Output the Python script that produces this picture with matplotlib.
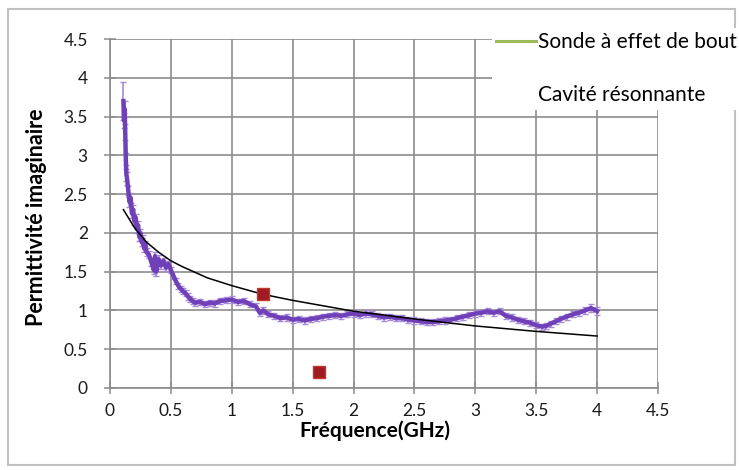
import numpy as np
import matplotlib
matplotlib.use("Agg")
import matplotlib.pyplot as plt
from matplotlib.lines import Line2D
from matplotlib.patches import Rectangle

plt.rcParams['font.family'] = ['Lato', 'DejaVu Sans']

# mesure sonde a effet de bout (GHz, permittivite imaginaire)
freq = [0.11, 0.115, 0.12, 0.125, 0.13, 0.135, 0.14, 0.15, 0.16, 0.17,
        0.18, 0.19, 0.20, 0.21, 0.22, 0.23, 0.24, 0.25, 0.26, 0.27,
        0.28, 0.29, 0.30, 0.32, 0.34, 0.36, 0.37, 0.38, 0.40, 0.42,
        0.44, 0.46, 0.48, 0.50, 0.52, 0.54, 0.56, 0.58, 0.60, 0.62,
        0.64, 0.66, 0.68, 0.70, 0.74, 0.78, 0.82, 0.86, 0.90, 0.95,
        1.00, 1.05, 1.10, 1.15, 1.20, 1.23, 1.26, 1.30, 1.35, 1.40,
        1.45, 1.50, 1.55, 1.60, 1.65, 1.70, 1.75, 1.80, 1.85, 1.90,
        1.95, 2.00, 2.05, 2.10, 2.15, 2.20, 2.25, 2.30, 2.35, 2.40,
        2.45, 2.50, 2.55, 2.60, 2.65, 2.70, 2.75, 2.80, 2.85, 2.90,
        2.95, 3.00, 3.05, 3.10, 3.15, 3.20, 3.25, 3.30, 3.35, 3.40,
        3.45, 3.50, 3.55, 3.58, 3.62, 3.66, 3.70, 3.75, 3.80, 3.85,
        3.90, 3.95, 4.00]
eps_sonde = [3.70, 3.45, 3.60, 3.30, 2.95, 2.75, 2.70, 2.55, 2.40, 2.45,
             2.25, 2.30, 2.15, 2.20, 2.05, 2.10, 1.95, 2.00, 1.88, 1.92,
             1.80, 1.85, 1.75, 1.72, 1.62, 1.52, 1.70, 1.50, 1.66, 1.58,
             1.64, 1.55, 1.60, 1.52, 1.45, 1.38, 1.32, 1.28, 1.25, 1.22,
             1.18, 1.15, 1.12, 1.10, 1.11, 1.08, 1.10, 1.09, 1.12, 1.13,
             1.14, 1.11, 1.12, 1.08, 1.05, 0.97, 1.00, 0.95, 0.93, 0.90,
             0.91, 0.88, 0.89, 0.87, 0.89, 0.90, 0.92, 0.93, 0.94, 0.93,
             0.95, 0.96, 0.94, 0.96, 0.95, 0.93, 0.91, 0.92, 0.90, 0.90,
             0.88, 0.87, 0.86, 0.85, 0.85, 0.86, 0.87, 0.88, 0.90, 0.92,
             0.94, 0.96, 0.97, 0.99, 0.97, 0.99, 0.93, 0.91, 0.88, 0.86,
             0.84, 0.81, 0.79, 0.80, 0.83, 0.86, 0.89, 0.92, 0.95, 0.97,
             1.00, 1.03, 0.99]
err_sonde = [0.25, 0.10, 0.10, 0.10, 0.08, 0.08, 0.08, 0.06, 0.06, 0.06,
             0.06, 0.06, 0.05, 0.05, 0.05, 0.05, 0.05, 0.05, 0.05, 0.05,
             0.05, 0.05, 0.05, 0.05, 0.05, 0.05, 0.05, 0.05, 0.05, 0.05,
             0.04, 0.04, 0.04, 0.04, 0.04, 0.04, 0.04, 0.04, 0.04, 0.04,
             0.04, 0.04, 0.04, 0.04, 0.04, 0.04, 0.04, 0.04, 0.04, 0.04,
             0.04, 0.04, 0.04, 0.04, 0.04, 0.04, 0.04, 0.04, 0.04, 0.04,
             0.04, 0.04, 0.04, 0.04, 0.04, 0.04, 0.04, 0.04, 0.04, 0.04,
             0.04, 0.04, 0.04, 0.04, 0.04, 0.04, 0.04, 0.04, 0.04, 0.04,
             0.04, 0.04, 0.04, 0.04, 0.04, 0.04, 0.04, 0.04, 0.04, 0.04,
             0.04, 0.04, 0.04, 0.04, 0.04, 0.04, 0.04, 0.04, 0.04, 0.04,
             0.04, 0.04, 0.04, 0.04, 0.04, 0.04, 0.04, 0.04, 0.04, 0.04,
             0.04, 0.05, 0.05]

# courbe de tendance
freq_trend = [0.11, 0.2, 0.3, 0.4, 0.5, 0.6, 0.8, 1.0, 1.25, 1.5, 1.75,
              2.0, 2.5, 3.0, 3.5, 4.0]
eps_trend = [2.30, 2.07, 1.88, 1.75, 1.64, 1.56, 1.42, 1.32, 1.21, 1.13,
             1.06, 0.99, 0.89, 0.80, 0.73, 0.67]

# cavite resonnante
freq_cav = [1.26, 1.72]
eps_cav = [1.21, 0.21]

ticks = [0, 0.5, 1, 1.5, 2, 2.5, 3, 3.5, 4, 4.5]
tick_labels = ['0', '0.5', '1', '1.5', '2', '2.5', '3', '3.5', '4', '4.5']

fig = plt.figure(figsize=(7.39, 4.70), dpi=100)
ax = fig.add_axes([110/739, 1-388/470, 548/739, 349/470])

ax.errorbar(freq, eps_sonde, yerr=err_sonde, color='#7040b8', lw=3.2,
            ecolor='#a78bd8', elinewidth=1.2, capsize=2, zorder=3)
ax.plot(freq_trend, eps_trend, color='black', lw=1.1, zorder=4)
ax.plot(freq_cav, eps_cav, 's', ms=8, mfc='#9e1b22', mec='#c0392b',
        mew=1, zorder=5)

ax.set_xlim(0, 4.5)
ax.set_ylim(0, 4.5)
ax.set_xticks(ticks)
ax.set_xticklabels(tick_labels)
ax.set_yticks(ticks)
ax.set_yticklabels(tick_labels)
ax.grid(True, color='#8c8c8c', lw=1.2)
ax.set_axisbelow(True)
for s in ['top', 'right']:
    ax.spines[s].set_visible(False)
for s in ['left', 'bottom']:
    ax.spines[s].set_color('#8c8c8c')
    ax.spines[s].set_linewidth(1.2)
ax.tick_params(direction='inout', length=8, width=1.1, color='#8c8c8c',
               labelsize=12.5, labelcolor='#1a1a1a')
ax.tick_params(axis='x', pad=7)
ax.tick_params(axis='y', pad=12)

ax.set_xlabel('Fréquence(GHz)', fontsize=15, fontweight='bold')
ax.xaxis.set_label_coords(0.483, -0.094)
ax.set_ylabel('Permittivité imaginaire', fontsize=15.5, fontweight='bold')
ax.yaxis.set_label_coords(-0.115, 0.49)

# cadre exterieur
fig.patches.append(Rectangle((8/739, 5/470), 727/739, 456/470,
                             transform=fig.transFigure, fill=False,
                             edgecolor='#c0c0c0', lw=1.5))

handles = [Line2D([], [], color='#9bbb59', lw=2.2),
           Line2D([], [], color='none')]
leg = fig.legend(handles, ['Sonde à effet de bout', 'Cavité résonnante'],
                 loc='upper left', bbox_to_anchor=(492/739, 1-28/470),
                 fontsize=15, frameon=True, facecolor='white',
                 edgecolor='none', framealpha=1, fancybox=False,
                 handlelength=1.9, handletextpad=0.1, labelspacing=1.6,
                 borderpad=0.2, borderaxespad=0)
leg.set_zorder(10)

fig.savefig('out.png', dpi=100)
